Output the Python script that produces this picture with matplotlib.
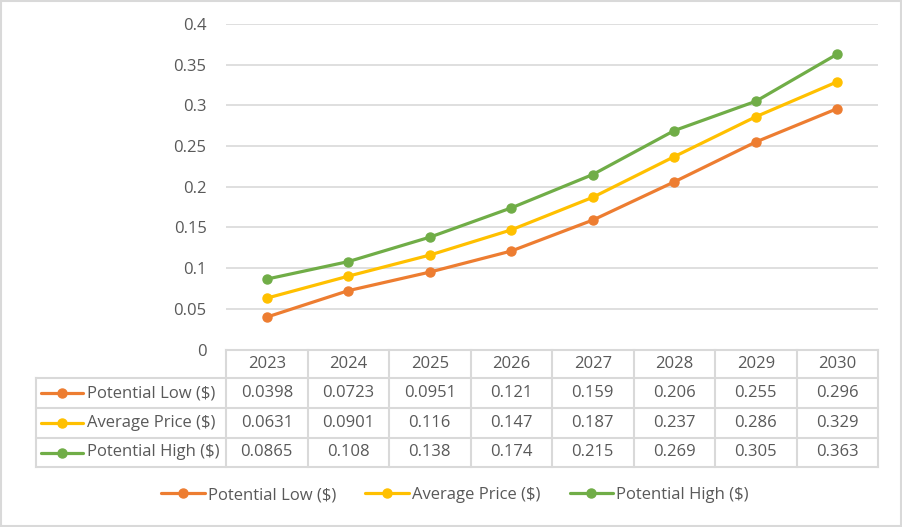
import numpy as np
import matplotlib.pyplot as plt
from matplotlib.lines import Line2D
from matplotlib.patches import Rectangle

years = ["2023", "2024", "2025", "2026", "2027", "2028", "2029", "2030"]
low = [0.0398, 0.0723, 0.0951, 0.121, 0.159, 0.206, 0.255, 0.296]
avg = [0.0631, 0.0901, 0.116, 0.147, 0.187, 0.237, 0.286, 0.329]
high = [0.0865, 0.108, 0.138, 0.174, 0.215, 0.269, 0.305, 0.363]
names = ["Potential Low ($)", "Average Price ($)", "Potential High ($)"]
colors = ["#ED7D31", "#FFC000", "#70AD47"]
yticks = [0, 0.05, 0.1, 0.15, 0.2, 0.25, 0.3, 0.35, 0.4]
ytick_labels = ["0", "0.05", "0.1", "0.15", "0.2", "0.25", "0.3", "0.35", "0.4"]

W, H = 902, 527
txt = "#595959"
grid = "#D9D9D9"
plt.rcParams['font.family'] = ['Open Sans', 'DejaVu Sans']
fs = 12

fig = plt.figure(figsize=(W / 100, H / 100), dpi=100)

def fx(px):
    return px / W

def fy(py):
    return 1 - py / H

# plot area in pixels
x0, x1 = 226, 878
y_top, y_zero = 24, 349.5
ax = fig.add_axes([fx(x0), fy(y_zero), fx(x1 - x0), (y_zero - y_top) / H])
x = np.arange(len(years))
for vals, c, n in zip([low, avg, high], colors, names):
    ax.plot(x, vals, color=c, lw=2.3, marker='o', ms=6.5, label=n, solid_capstyle='round')
ax.set_xlim(-0.5, len(years) - 0.5)
ax.set_ylim(0, 0.4)
ax.set_yticks(yticks)
ax.set_yticklabels(ytick_labels, color=txt, fontsize=fs)
ax.tick_params(axis='y', length=0, pad=14)
ax.set_xticks([])
ax.grid(axis='y', color=grid, lw=1.2)
ax.set_axisbelow(True)
for s in ax.spines.values():
    s.set_visible(False)

# data table under the plot
col_w = (x1 - x0) / len(years)
rows_y = [349.5, 378, 408, 438, 467]
tl = 36

def hline(xa, xb, yy):
    fig.add_artist(Line2D([fx(xa), fx(xb)], [fy(yy), fy(yy)], color=grid, lw=1.5))

def vline(xx, ya, yb):
    fig.add_artist(Line2D([fx(xx), fx(xx)], [fy(ya), fy(yb)], color=grid, lw=1.5))

hline(x0, x1, rows_y[0])
for yy in rows_y[1:]:
    hline(tl, x1, yy)
vline(tl, rows_y[1], rows_y[-1])
for i in range(len(years) + 1):
    vline(x0 + i * col_w, rows_y[0], rows_y[-1])

for i, yr in enumerate(years):
    cx = x0 + (i + 0.5) * col_w
    fig.text(fx(cx), fy((rows_y[0] + rows_y[1]) / 2), yr, ha='center', va='center',
             color=txt, fontsize=fs)

for r, (vals, c, n) in enumerate(zip([low, avg, high], colors, names)):
    cy = (rows_y[r + 1] + rows_y[r + 2]) / 2
    fig.add_artist(Line2D([fx(41), fx(83)], [fy(cy), fy(cy)], color=c, lw=2.3,
                          solid_capstyle='round'))
    fig.add_artist(Line2D([fx(62)], [fy(cy)], color=c, marker='o', ms=6.5))
    fig.text(fx(87), fy(cy), n, ha='left', va='center', color=txt, fontsize=fs)
    for i, v in enumerate(vals):
        cx = x0 + (i + 0.5) * col_w
        fig.text(fx(cx), fy(cy), f"{v:g}", ha='center', va='center', color=txt, fontsize=fs)

# legend
handles, labels = ax.get_legend_handles_labels()
fig.legend(handles, labels, loc='center', bbox_to_anchor=(fx(455), fy(495)), ncol=3,
           frameon=False, fontsize=fs, labelcolor=txt, handlelength=2.6,
           handletextpad=0.2, columnspacing=1.75, numpoints=1)

# outer border
fig.add_artist(Rectangle((fx(1), fy(526)), fx(900), 525 / H, fill=False,
                         edgecolor=grid, lw=1.5))

fig.savefig("out.png", dpi=100)
